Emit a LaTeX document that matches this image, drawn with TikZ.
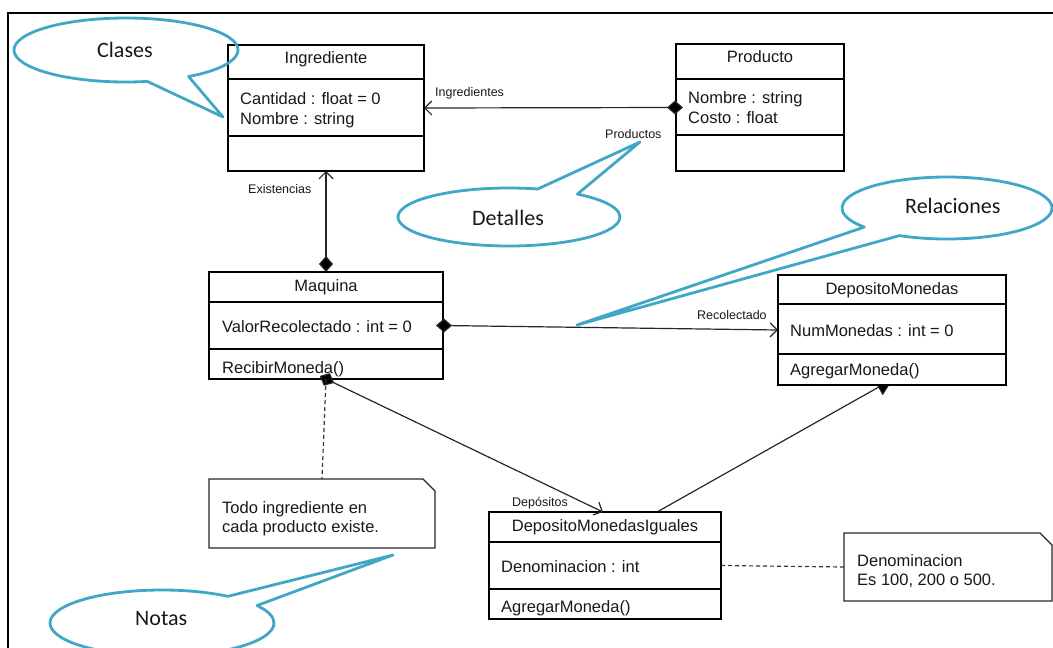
\documentclass[tikz,border=0pt]{standalone}
\usepackage{fontspec}
\setmainfont{Liberation Sans}
\newfontfamily\calloutfont{Carlito}
\usetikzlibrary{arrows.meta,calc}

\definecolor{calloutblue}{RGB}{64,168,198}
\definecolor{inkgray}{RGB}{24,24,28}
\definecolor{notedash}{RGB}{40,58,78}

\begin{document}
\begin{tikzpicture}[x=1pt,y=-1pt,
  classbox/.style={draw=black, fill=white, line width=1.3pt, anchor=north west,
    inner sep=0pt, outer sep=0pt},
  notebox/.style={anchor=north west, inner sep=0pt, outer sep=0pt},
  noteline/.style={draw=black!85, line width=1.3pt},
  divider/.style={draw=black, line width=1.2pt},
  title/.style={anchor=base, font=\fontsize{16.5}{19}\selectfont, text=inkgray, inner sep=0pt},
  attr/.style={anchor=base west, font=\fontsize{16.5}{19}\selectfont, text=inkgray, inner sep=0pt},
  rolelabel/.style={anchor=base west, font=\fontsize{12.5}{14}\selectfont, text=inkgray, inner sep=0pt},
  callouttext/.style={anchor=base west, font=\calloutfont\fontsize{22}{24}\selectfont, text=inkgray, inner sep=0pt},
  calloutline/.style={draw=calloutblue, line width=2.8pt, line join=round},
  assoc/.style={draw=black!85, line width=1.2pt},
  owner/.style={{Diamond[length=16pt,width=14pt,fill=black]}-{Straight Barb[length=7pt,width=14pt]}},
  centredowner/.style={owner, shorten <=-7pt},
  inherit/.style={-{Triangle[length=17pt,width=18pt,fill=black]}},
  notelink/.style={draw=notedash, line width=1.2pt, dash pattern=on 4pt off 3pt}
]
\useasboundingbox (0,0) rectangle (1053,648);
\clip (0,0) rectangle (1053,648);

% outer frame
\draw[line width=2pt] (8,660) -- (8,13) -- (1060,13);

% corner points of the class boxes
\path (228,45) coordinate (ingrNW) (676,44) coordinate (prodNW)
      (209,272) coordinate (maqNW) (778,275) coordinate (depNW)
      (489,512) coordinate (dmiNW);

% inheritance line: its tip runs under the DepositoMonedas box
\coordinate (inhStart) at ($(dmiNW)+(168,0)$);
\coordinate (inhEnd) at (893,379);
\draw[assoc, inherit] (inhStart) -- (inhEnd);

% ---------- classes ----------
\node[classbox, minimum width=196pt, minimum height=126pt] (ingr) at (ingrNW) {};
\draw[divider] ($(ingr.north west)+(0,34)$) -- ($(ingr.north east)+(0,34)$);
\draw[divider] ($(ingr.north west)+(0,91)$) -- ($(ingr.north east)+(0,91)$);
\node[title] (ingrT) at (326,63) {Ingrediente};
\node[attr] (ingrA1) at (240,104) {Cantidad : float = 0};
\node[attr] (ingrA2) at (240,124) {Nombre : string};

\node[classbox, minimum width=168pt, minimum height=127pt] (prod) at (prodNW) {};
\draw[divider] ($(prod.north west)+(0,35)$) -- ($(prod.north east)+(0,35)$);
\draw[divider] ($(prod.north west)+(0,91)$) -- ($(prod.north east)+(0,91)$);
\node[title] (prodT) at (760,62) {Producto};
\node[attr] (prodA1) at (688,103) {Nombre : string};
\node[attr] (prodA2) at (688,123) {Costo : float};

\node[classbox, minimum width=234pt, minimum height=107pt] (maq) at (maqNW) {};
\draw[divider] ($(maq.north west)+(0,30)$) -- ($(maq.north east)+(0,30)$);
\draw[divider] ($(maq.north west)+(0,77)$) -- ($(maq.north east)+(0,77)$);
\node[title] (maqT) at (326,291) {Maquina};
\node[attr] (maqA1) at (222,332) {ValorRecolectado : int = 0};
\node[attr] (maqO1) at (222,373) {RecibirMoneda()};

\node[classbox, minimum width=228pt, minimum height=110pt] (dep) at (depNW) {};
\draw[divider] ($(dep.north west)+(0,29)$) -- ($(dep.north east)+(0,29)$);
\draw[divider] ($(dep.north west)+(0,79)$) -- ($(dep.north east)+(0,79)$);
\node[title] (depT) at (892,294) {DepositoMonedas};
\node[attr] (depA1) at (790,336) {NumMonedas : int = 0};
\node[attr] (depO1) at (790,375) {AgregarMoneda()};

\node[classbox, minimum width=232pt, minimum height=107pt] (dmi) at (dmiNW) {};
\draw[divider] ($(dmi.north west)+(0,30)$) -- ($(dmi.north east)+(0,30)$);
\draw[divider] ($(dmi.north west)+(0,77)$) -- ($(dmi.north east)+(0,77)$);
\node[title] (dmiT) at (605,531) {DepositoMonedasIguales};
\node[attr] (dmiA1) at (501,572) {Denominacion : int};
\node[attr] (dmiO1) at (501,612) {AgregarMoneda()};

% ---------- notes ----------
\node[notebox, minimum width=226pt, minimum height=69pt] (note1) at (209,479) {};
\draw[noteline] (note1.north west) -- ($(note1.north east)+(-12,0)$)
  -- ($(note1.north east)+(0,12)$) -- (note1.south east) -- (note1.south west) -- cycle;
\node[attr] (note1L1) at (222,513) {Todo ingrediente en};
\node[attr] (note1L2) at (222,532) {cada producto existe.};

\node[notebox, minimum width=208pt, minimum height=68pt] (note2) at (844,533) {};
\draw[noteline] (note2.north west) -- ($(note2.north east)+(-12,0)$)
  -- ($(note2.north east)+(0,12)$) -- (note2.south east) -- (note2.south west) -- cycle;
\node[attr] (note2L1) at (857,566) {Denominacion};
\node[attr] (note2L2) at (857,585) {Es 100, 200 o 500.};

% ---------- associations ----------
\draw[assoc, centredowner] (prod.west) -- (ingr.east);
\draw[assoc, owner] (maq.north) -- (ingr.south);
\draw[assoc, centredowner] (maq.east) -- (dep.west);
\coordinate (dmiIn) at ($(dmi.north west)+(114,0)$);
\draw[assoc, centredowner] (maq.south) -- (dmiIn);

\draw[notelink] (maq.south) -- (note1.north);
\draw[notelink] (dmi.east) -- (note2.west);

\node[rolelabel] (lblIngr) at (435,96) {Ingredientes};
\node[rolelabel] (lblProd) at (605,138) {Productos};
\node[rolelabel] (lblExis) at (248,193) {Existencias};
\node[rolelabel] (lblReco) at (697,319) {Recolectado};
\node[rolelabel] (lblDepo) at (512,506) {Depósitos};

% ---------- callouts ----------
\coordinate (clasesC) at (126,50);
\coordinate (clasesTip) at (223,117);
\draw[calloutline] ($(clasesC)+(-56:112pt and 32pt)$)
  arc[start angle=-56, end angle=281, x radius=112pt, y radius=32pt]
  -- (clasesTip) -- cycle;
\node[callouttext] (clases) at (97,57) {Clases};

\coordinate (detC) at (509,217);
\coordinate (detTip) at (640,142);
\draw[calloutline] ($(detC)+(75:111pt and 29pt)$)
  arc[start angle=75, end angle=412, x radius=111pt, y radius=29pt]
  -- (detTip) -- cycle;
\node[callouttext] (detalles) at (472,225) {Detalles};

\coordinate (relC) at (947,208);
\coordinate (relTip) at (577,325);
\draw[calloutline] ($(relC)+(243:105pt and 31pt)$)
  arc[start angle=243, end angle=578, x radius=105pt, y radius=31pt]
  -- (relTip) -- cycle;
\node[callouttext] (relaciones) at (905,213) {Relaciones};

\coordinate (notC) at (162,623);
\coordinate (notTip) at (393,555);
\draw[calloutline] ($(notC)+(54:112pt and 33pt)$)
  arc[start angle=54, end angle=392, x radius=112pt, y radius=33pt]
  -- (notTip) -- cycle;
\node[callouttext] (notas) at (135,625) {Notas};
\end{tikzpicture}
\end{document}
